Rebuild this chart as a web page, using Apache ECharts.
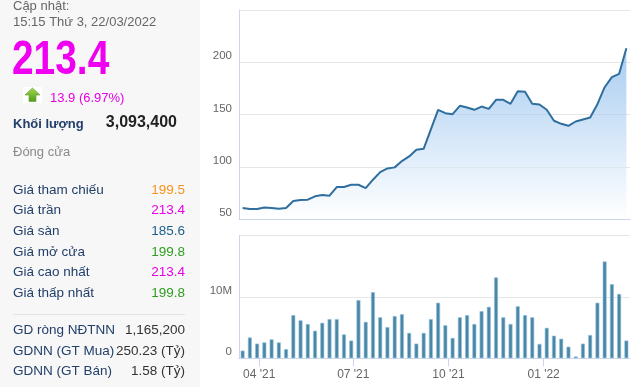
<!DOCTYPE html>
<html>
<head>
<meta charset="utf-8">
<script src="https://cdn.jsdelivr.net/npm/echarts@6/dist/echarts.min.js"></script>
<style>
html,body{margin:0;padding:0;background:#ffffff;}
#chart{width:640px;height:387px;}
</style>
</head>
<body>
<div id="chart"></div>
<script>
// ---- data ----
const dates = ['2021-03-16','2021-03-23','2021-03-30','2021-04-06','2021-04-13','2021-04-20','2021-04-27',
  '2021-05-04','2021-05-11','2021-05-18','2021-05-25','2021-06-01','2021-06-08','2021-06-15','2021-06-22','2021-06-29',
  '2021-07-06','2021-07-13','2021-07-20','2021-07-27','2021-08-03','2021-08-10','2021-08-17','2021-08-24','2021-08-31',
  '2021-09-07','2021-09-14','2021-09-21','2021-09-28','2021-10-05','2021-10-12','2021-10-19','2021-10-26',
  '2021-11-02','2021-11-09','2021-11-16','2021-11-23','2021-11-30','2021-12-07','2021-12-14','2021-12-21','2021-12-28',
  '2022-01-04','2022-01-11','2022-01-18','2022-01-25','2022-02-01','2022-02-08','2022-02-15','2022-02-22',
  '2022-03-01','2022-03-08','2022-03-15','2022-03-22'];
const prices = [60.5,59.6,59.6,61.1,60.5,59.9,60.5,67.2,68.2,68.5,71.7,72.9,72.3,80.6,80.6,82.8,82.8,79.6,
  87.6,94.9,98.4,99.4,105.4,109.9,116.2,117.2,135.8,154.5,151.3,150.3,158.3,156.7,154.5,157.6,155.4,164,164,
  160.2,172.3,171.7,160.2,159.6,154.5,144,141.1,139.2,143.3,145.2,147.1,159.9,176.1,185.7,188.9,213.4];
const volumes = [1260000,3400000,2400000,2600000,3100000,2600000,1500000,7050000,6200000,5600000,4500000,5800000,
  6400000,6400000,3900000,2900000,9500000,5950000,10800000,6700000,5100000,6900000,7200000,4150000,2400000,
  4150000,6400000,9070000,5400000,3330000,6700000,7050000,5600000,7700000,8400000,13200000,6700000,5600000,
  8500000,7050000,6700000,2350000,4970000,3700000,3200000,1900000,300000,2400000,3800000,9070000,15800000,
  12100000,10500000,2900000];
const xTickDates = ['2021-04-01','2021-07-01','2021-10-01','2022-01-01'];
const xTickLabels = ["04 '21","07 '21","10 '21","01 '22"];
const priceTicks = {min:50, max:250, interval:50};
const volTicks = {min:0, max:20000000, interval:10000000};
const volTickLabels = {0:'0', 10000000:'10M'};

const infoRows = [
  ['Giá tham chiếu','199.5','#f7941d'],
  ['Giá trần','213.4','#e600e6'],
  ['Giá sàn','185.6','#1d5f8c'],
  ['Giá mở cửa','199.8','#2e9e1e'],
  ['Giá cao nhất','213.4','#e600e6'],
  ['Giá thấp nhất','199.8','#2e9e1e']
];
const foreignRows = [
  ['GD ròng NĐTNN','1,165,200'],
  ['GDNN (GT Mua)','250.23 (Tỷ)'],
  ['GDNN (GT Bán)','1.58 (Tỷ)']
];

// ---- chart ----
const ts = s => { const p = s.split('-'); return Date.UTC(+p[0], +p[1]-1, +p[2]); };
const DAY = 86400000;
const xMin = ts(dates[0]) - 3.5*DAY;
const xMax = ts(dates[dates.length-1]) + 3.5*DAY;
const tickTs = xTickDates.map(ts);

const FONT = '"Liberation Sans", Arial, sans-serif';
const NAVY = '#23406a';
const graphics = [];
graphics.push({type:'rect', shape:{x:0,y:0,width:200,height:387}, style:{fill:'#f7f7f7'}, z:0});
function txt(text, x, y, size, color, opts){
  opts = opts || {};
  graphics.push({type:'text', x:x, y:y, scaleX: opts.scaleX || 1, z:10, style:{
    text:text, fontSize:size, fontFamily:FONT, fontWeight:opts.bold?'bold':'normal',
    fill:color, align:opts.align||'left', verticalAlign:'middle'}});
}
txt('Cập nhật:', 13, 6.5, 13, '#666666');
txt('15:15 Thứ 3, 22/03/2022', 13, 22, 13, '#666666');
txt('213.4', 12, 61, 48, '#f000f0', {scaleX:0.81, bold:true});
// arrow icon
graphics.push({type:'rect', shape:{x:23,y:87,width:19,height:16}, style:{fill:'#ffffff'}, z:5});
graphics.push({type:'polygon', z:6, shape:{points:[[32.5,88],[40,95],[36,95],[36,101.5],[29,101.5],[29,95],[25,95]]},
  style:{fill:new echarts.graphic.LinearGradient(0,0,0,1,[{offset:0,color:'#a6d84e'},{offset:1,color:'#4f9a1c'}]), stroke:'#5f9f2a', lineWidth:0.6}});
txt('13.9 (6.97%)', 50, 98, 13, '#e600e6');
txt('Khối lượng', 13, 124, 13, NAVY, {bold:true});
txt('3,093,400', 177, 123, 16, '#222222', {bold:true, align:'right'});
txt('Đóng cửa', 13, 152, 13, '#8a8a8a');
infoRows.forEach((r,i)=>{
  const y = 190 + i*20.6;
  txt(r[0], 13, y, 13.5, NAVY);
  txt(r[1], 185, y, 13.5, r[2], {align:'right'});
});
graphics.push({type:'line', shape:{x1:13,y1:314.5,x2:185,y2:314.5}, style:{stroke:'#e3e3e3', lineWidth:1}, z:5});
foreignRows.forEach((r,i)=>{
  const y = 330.7 + i*20.5;
  txt(r[0], 13, y, 13.5, NAVY);
  txt(r[1], 185, y, 13.5, '#333333', {align:'right'});
});

const axisColor = '#ccd6eb';
const chart = echarts.init(document.getElementById('chart'));
chart.setOption({
  animation:false,
  backgroundColor:'#ffffff',
  graphic: graphics,
  grid:[
    {left:239, right:10, top:10, height:209},
    {left:239, right:10, top:235.7, height:122.6}
  ],
  xAxis:[
    {type:'value', gridIndex:0, min:xMin, max:xMax,
      axisLine:{show:true, onZero:false, lineStyle:{color:axisColor}}, axisTick:{show:false}, axisLabel:{show:false}, splitLine:{show:false}},
    {type:'value', gridIndex:1, min:xMin, max:xMax,
      axisLine:{show:true, onZero:false, lineStyle:{color:axisColor}},
      axisTick:{show:true, customValues:tickTs, length:8, lineStyle:{color:axisColor}},
      axisLabel:{customValues:tickTs, color:'#666666', fontSize:12, fontFamily:FONT, margin:10,
        formatter:function(v){ const i = tickTs.indexOf(v); return i>=0 ? xTickLabels[i] : ''; }},
      splitLine:{show:false}}
  ],
  yAxis:[
    {type:'value', gridIndex:0, min:priceTicks.min, max:priceTicks.max, interval:priceTicks.interval,
      axisLine:{show:true, lineStyle:{color:axisColor}}, axisTick:{show:false},
      axisLabel:{showMaxLabel:false, color:'#666666', fontSize:11.5, fontFamily:FONT, margin:7, verticalAlign:'bottom'},
      splitLine:{lineStyle:{color:'#e6e6e6'}}},
    {type:'value', gridIndex:1, min:volTicks.min, max:volTicks.max, interval:volTicks.interval,
      axisLine:{show:true, lineStyle:{color:axisColor}}, axisTick:{show:false},
      axisLabel:{showMaxLabel:false, color:'#666666', fontSize:11.5, fontFamily:FONT, margin:7, verticalAlign:'bottom',
        formatter:function(v){ return volTickLabels[v] !== undefined ? volTickLabels[v] : ''; }},
      splitLine:{lineStyle:{color:'#e6e6e6'}}}
  ],
  series:[
    {type:'line', xAxisIndex:0, yAxisIndex:0, showSymbol:false, symbol:'none',
      data: dates.map((d,i)=>[ts(d), prices[i]]),
      lineStyle:{color:'#2f6e9e', width:2},
      areaStyle:{color:new echarts.graphic.LinearGradient(0,0,0,1,[
        {offset:0,color:'rgba(120,176,234,0.92)'},{offset:1,color:'rgba(255,255,255,0.9)'}])}},
    {type:'bar', xAxisIndex:1, yAxisIndex:1, barWidth:4,
      data: dates.map((d,i)=>[ts(d), volumes[i]]),
      itemStyle:{color:'#4a86a6', borderColor:'rgba(150,195,222,0.9)', borderWidth:0.7}}
  ]
});
</script>
</body>
</html>
